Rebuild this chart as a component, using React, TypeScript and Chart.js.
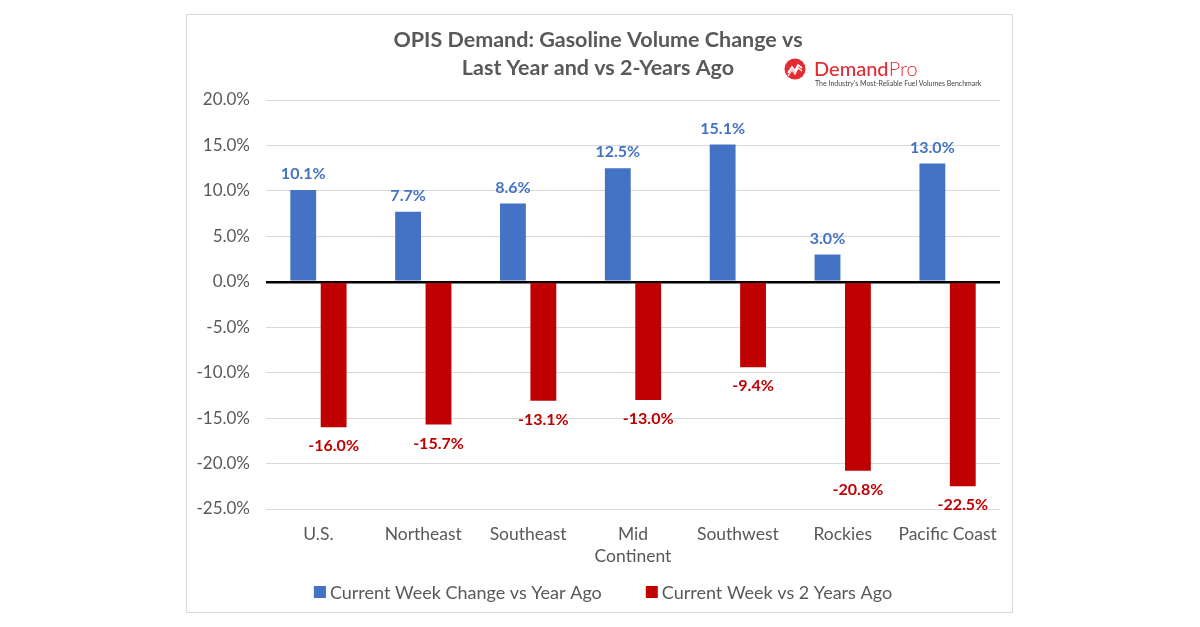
import React, { useEffect, useRef } from "react";
import { Chart, registerables } from "chart.js";

Chart.register(...registerables);

const categories: (string | string[])[] = ["U.S.", "Northeast", "Southeast", ["Mid", "Continent"], "Southwest", "Rockies", "Pacific Coast"];
const yearAgo = [10.1, 7.7, 8.6, 12.5, 15.1, 3.0, 13.0];
const twoYearsAgo = [-16.0, -15.7, -13.1, -13.0, -9.4, -20.8, -22.5];
const seriesNames = ["Current Week Change vs Year Ago", "Current Week vs 2 Years Ago"];
const titleLines = ["OPIS Demand: Gasoline Volume Change vs", "Last Year and vs 2-Years Ago"];

const BLUE = "#4472C4";
const RED = "#C00000";
const GRAY = "#595959";
const FONT = "Lato, 'Open Sans', sans-serif";

const titlePlugin = {
  id: "customTitle",
  afterDraw(chart: any) {
    const ctx = chart.ctx;
    ctx.save();
    ctx.font = `bold 21.5px ${FONT}`;
    ctx.fillStyle = GRAY;
    ctx.textAlign = "center";
    ctx.textBaseline = "middle";
    ctx.fillText(titleLines[0], 598, 40);
    ctx.fillText(titleLines[1], 598, 68);
    ctx.restore();
  },
};

const legendPlugin = {
  id: "customLegend",
  afterDraw(chart: any) {
    const ctx = chart.ctx;
    ctx.save();
    ctx.font = `18px ${FONT}`;
    ctx.textBaseline = "middle";
    ctx.textAlign = "left";
    const box = 12;
    const gapText = 4;
    const gapItem = 44;
    const ds = chart.data.datasets;
    const widths = ds.map((d: any) => ctx.measureText(d.label).width);
    const total = widths.reduce((a: number, w: number) => a + box + gapText + w, 0) + gapItem * (ds.length - 1);
    let x = 603 - total / 2;
    const y = 592;
    ds.forEach((d: any, i: number) => {
      ctx.fillStyle = d.backgroundColor;
      ctx.fillRect(x, y - box / 2, box, box);
      x += box + gapText;
      ctx.fillStyle = GRAY;
      ctx.fillText(d.label, x, y + 1);
      x += widths[i] + gapItem;
    });
    ctx.restore();
  },
};

const labelPlugin = {
  id: "barLabels",
  afterDatasetsDraw(chart: any) {
    const ctx = chart.ctx;
    ctx.save();
    ctx.font = `bold 16px ${FONT}`;
    ctx.textAlign = "center";
    ctx.textBaseline = "middle";
    chart.data.datasets.forEach((ds: any, di: number) => {
      const meta = chart.getDatasetMeta(di);
      meta.data.forEach((bar: any, i: number) => {
        const v = ds.data[i];
        ctx.fillStyle = di === 0 ? BLUE : RED;
        const y = v >= 0 ? bar.y - 16 : bar.y + 19;
        ctx.fillText(v.toFixed(1) + "%", bar.x, y);
      });
    });
    ctx.restore();
  },
};

export default function App() {
  const ref = useRef<HTMLCanvasElement>(null);
  useEffect(() => {
    if (!ref.current) return;
    const chart = new Chart(ref.current, {
      type: "bar",
      data: {
        labels: categories,
        datasets: [
          { label: seriesNames[0], data: yearAgo, backgroundColor: BLUE },
          { label: seriesNames[1], data: twoYearsAgo, backgroundColor: RED },
        ],
      },
      options: {
        animation: false,
        responsive: false,
        devicePixelRatio: 1,
        layout: { padding: { left: 186, right: 200, top: 100, bottom: 56 } },
        datasets: { bar: { categoryPercentage: 0.58, barPercentage: 0.85 } },
        scales: {
          x: {
            grid: { display: false },
            border: { display: false },
            ticks: { color: GRAY, font: { family: FONT, size: 17.5, lineHeight: 1.27 }, padding: 6, maxRotation: 0, autoSkip: false },
            afterFit: (s: any) => { s.height = 62; },
          },
          y: {
            min: -25,
            max: 20,
            border: { display: false },
            grid: {
              drawTicks: false,
              color: (c: any) => (c.tick && c.tick.value === 0 ? "#000000" : "#D9D9D9"),
              lineWidth: (c: any) => (c.tick && c.tick.value === 0 ? 2.5 : 1),
            },
            ticks: {
              stepSize: 5,
              color: GRAY,
              padding: 16,
              font: { family: FONT, size: 17 },
              callback: (v: any) => Number(v).toFixed(1) + "%",
            },
            afterFit: (s: any) => { s.width = 80; },
          },
        },
        plugins: {
          title: { display: false },
          tooltip: { enabled: false },
          legend: { display: false },
        },
      },
      plugins: [titlePlugin, labelPlugin, legendPlugin],
    } as any);
    return () => chart.destroy();
  }, []);

  return (
    <div style={{ position: "absolute", left: 0, top: 0, width: 1200, height: 627, background: "#fff", overflow: "hidden" }}>
      <div style={{ position: "absolute", left: 186, top: 14, width: 825, height: 597, border: "1px solid #D9D9D9" }} />
      <canvas ref={ref} width={1200} height={627} style={{ position: "absolute", left: 0, top: 0, width: 1200, height: 627 }} />
      <div style={{ position: "absolute", left: 784, top: 56, fontFamily: FONT, lineHeight: 1 }}>
        <svg width="22" height="22" viewBox="0 0 22 22" style={{ position: "absolute", left: 0, top: 2 }}>
          <circle cx="11" cy="11" r="10.5" fill="#E32B33" />
          <polyline points="4,15 8,9 11,13 14,7 18,10" fill="none" stroke="#fff" strokeWidth="1.8" />
          <polyline points="4,18 8,12 11,16 14,10 18,13" fill="none" stroke="#fff" strokeWidth="1.2" />
        </svg>
        <div style={{ position: "absolute", left: 30, top: 2, fontSize: 20, color: "#E32B33", whiteSpace: "nowrap" }}>
          <span style={{ fontWeight: 500 }}>Demand</span><span style={{ fontWeight: 300 }}>Pro</span>
        </div>
        <div style={{ position: "absolute", left: 31, top: 24, fontSize: 7, color: "#444", whiteSpace: "nowrap" }}>
          The Industry's Most-Reliable Fuel Volumes Benchmark
        </div>
      </div>
    </div>
  );
}
